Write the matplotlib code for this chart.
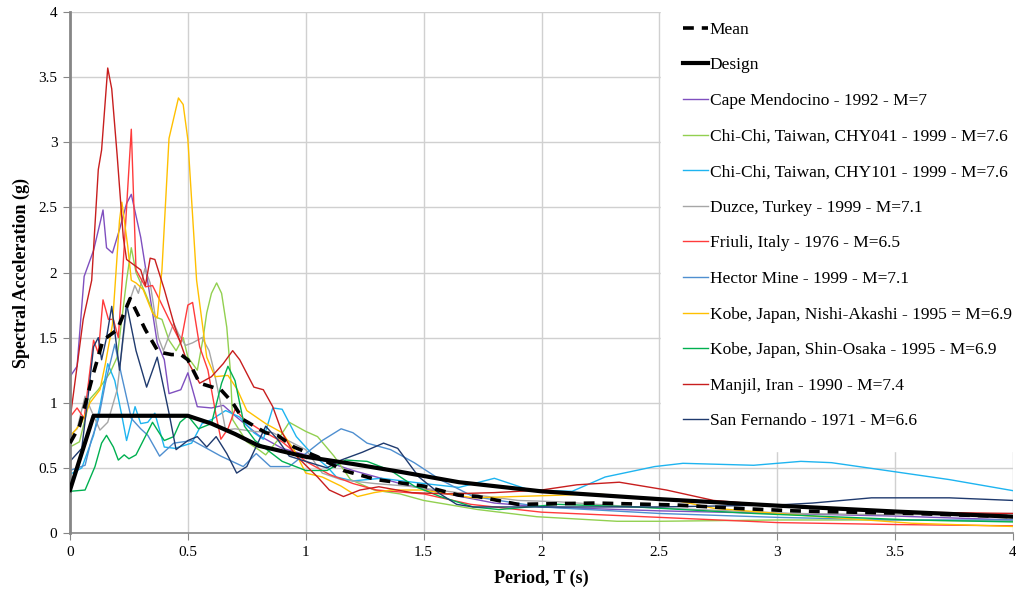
import matplotlib
matplotlib.use("Agg")
import matplotlib.pyplot as plt

plt.rcParams['font.family'] = ['Liberation Serif', 'DejaVu Serif']

# --- mean and design spectra ---
mean_T = [0, 0.04, 0.1, 0.14, 0.2, 0.255, 0.32, 0.375, 0.43, 0.47, 0.5, 0.55, 0.64, 0.69, 0.735, 0.83,
          0.88, 0.95, 1.05, 1.16, 1.3, 1.5, 1.65, 1.73, 1.9, 2.23, 2.57, 2.82, 3.07, 3.57, 4.0]
mean_Sa = [0.69, 0.82, 1.23, 1.48, 1.56, 1.8, 1.56, 1.39, 1.37, 1.37, 1.33, 1.15, 1.1, 1.0, 0.87, 0.77,
           0.75, 0.66, 0.585, 0.48, 0.41, 0.36, 0.29, 0.28, 0.22, 0.23, 0.215, 0.19, 0.17, 0.15, 0.125]

design_T = [0, 0.1, 0.5, 0.6, 0.7, 0.8, 1.0, 1.2, 1.4, 1.65, 2.0, 2.5, 3.0, 3.5, 4.0]
design_Sa = [0.33, 0.9, 0.9, 0.84, 0.76, 0.67, 0.585, 0.53, 0.47, 0.39, 0.32, 0.26, 0.21, 0.165, 0.125]

# --- records ---
cape_T = [0, 0.03, 0.06, 0.1, 0.13, 0.14, 0.155, 0.18, 0.21, 0.24, 0.26, 0.3, 0.34, 0.37, 0.4, 0.42, 0.47,
          0.5, 0.54, 0.6, 0.65, 0.7, 0.8, 0.9, 1.0, 1.2, 1.4, 1.6, 1.8, 2.0, 2.5, 3.0, 3.5, 4.0]
cape_Sa = [1.2, 1.28, 1.97, 2.17, 2.4, 2.48, 2.19, 2.15, 2.33, 2.53, 2.6, 2.27, 1.81, 1.46, 1.33, 1.07, 1.1,
           1.23, 0.97, 0.96, 0.98, 0.9, 0.75, 0.65, 0.6, 0.48, 0.38, 0.3, 0.23, 0.2, 0.17, 0.15, 0.13, 0.1]

chy041_T = [0, 0.04, 0.085, 0.12, 0.17, 0.2, 0.24, 0.26, 0.28, 0.32, 0.36, 0.39, 0.42, 0.45, 0.48, 0.5,
            0.54, 0.565, 0.58, 0.6, 0.622, 0.643, 0.665, 0.68, 0.69, 0.75, 0.8, 0.83, 0.88, 0.93, 1.0,
            1.05, 1.12, 1.19, 1.29, 1.4, 1.5, 1.73, 1.98, 2.32, 2.5, 3.0, 3.5, 4.0]
chy041_Sa = [0.66, 0.7, 1.03, 1.1, 1.23, 1.35, 1.94, 2.19, 2.0, 1.84, 1.66, 1.64, 1.48, 1.4, 1.5, 1.35,
             1.25, 1.5, 1.69, 1.84, 1.92, 1.84, 1.58, 1.25, 0.87, 0.7, 0.64, 0.6, 0.71, 0.85, 0.78,
             0.74, 0.59, 0.41, 0.33, 0.3, 0.25, 0.18, 0.125, 0.09, 0.09, 0.1, 0.1, 0.09]

chy101_T = [0, 0.05, 0.1, 0.13, 0.16, 0.19, 0.22, 0.24, 0.276, 0.3, 0.33, 0.36, 0.4, 0.445, 0.516, 0.56,
            0.6, 0.66, 0.72, 0.78, 0.82, 0.86, 0.9, 0.96, 1.03, 1.09, 1.13, 1.2, 1.32, 1.5, 1.65, 1.8,
            1.95, 2.13, 2.27, 2.48, 2.6, 2.9, 3.1, 3.23, 3.5, 3.73, 4.0]
chy101_Sa = [0.45, 0.5, 0.75, 1.0, 1.3, 1.17, 0.9, 0.71, 0.97, 0.84, 0.85, 0.92, 0.66, 0.65, 0.69, 0.84,
             0.87, 0.94, 0.89, 0.77, 0.72, 0.96, 0.95, 0.74, 0.6, 0.51, 0.43, 0.4, 0.42, 0.38, 0.35, 0.42,
             0.33, 0.32, 0.43, 0.51, 0.535, 0.52, 0.55, 0.54, 0.47, 0.41, 0.325]

duzce_T = [0, 0.03, 0.064, 0.1, 0.127, 0.16, 0.2, 0.24, 0.275, 0.29, 0.318, 0.34, 0.375, 0.396, 0.44, 0.46,
           0.49, 0.52, 0.56, 0.59, 0.61, 0.636, 0.66, 0.7, 0.78, 0.86, 1.0, 1.07, 1.15, 1.29, 1.43, 1.73,
           1.9, 2.07, 2.4, 3.07, 3.5, 4.0]
duzce_Sa = [0.75, 0.8, 1.05, 0.9, 0.79, 0.85, 1.1, 1.71, 1.9, 1.84, 2.03, 1.92, 1.5, 1.4, 1.61, 1.53,
            1.44, 1.46, 1.5, 1.4, 1.25, 1.02, 0.79, 0.8, 0.78, 0.77, 0.64, 0.46, 0.41, 0.38, 0.36, 0.29,
            0.25, 0.24, 0.2, 0.15, 0.14, 0.15]

friuli_T = [0, 0.03, 0.06, 0.1, 0.12, 0.14, 0.163, 0.184, 0.205, 0.22, 0.24, 0.26, 0.28, 0.32, 0.35, 0.38,
            0.42, 0.47, 0.5, 0.52, 0.55, 0.585, 0.62, 0.64, 0.67, 0.7, 0.74, 0.8, 0.85, 0.9, 1.0, 1.1,
            1.2, 1.3, 1.5, 1.7, 2.0, 2.5, 3.0, 3.5, 4.0]
friuli_Sa = [0.89, 0.96, 0.88, 1.48, 1.38, 1.79, 1.64, 1.64, 1.5, 1.9, 2.5, 3.1, 2.02, 1.89, 1.9, 1.79,
             1.64, 1.46, 1.75, 1.77, 1.43, 1.25, 0.9, 0.72, 0.8, 0.95, 0.87, 0.8, 0.75, 0.7, 0.55, 0.45,
             0.38, 0.33, 0.3, 0.22, 0.16, 0.12, 0.08, 0.065, 0.055]

hector_T = [0, 0.064, 0.09, 0.12, 0.15, 0.19, 0.22, 0.26, 0.3, 0.33, 0.38, 0.44, 0.52, 0.58, 0.64, 0.735,
            0.79, 0.85, 0.93, 1.0, 1.07, 1.15, 1.2, 1.26, 1.36, 1.46, 1.57, 1.71, 2.0, 2.5, 3.0, 3.5, 4.0]
hector_Sa = [0.48, 0.52, 0.71, 0.87, 1.15, 1.45, 1.2, 0.88, 0.8, 0.75, 0.59, 0.69, 0.71, 0.65, 0.59, 0.51,
             0.61, 0.51, 0.51, 0.61, 0.71, 0.8, 0.77, 0.69, 0.64, 0.54, 0.41, 0.28, 0.2, 0.15, 0.12, 0.1, 0.1]

nishi_T = [0, 0.05, 0.085, 0.127, 0.15, 0.18, 0.21, 0.22, 0.245, 0.26, 0.28, 0.31, 0.35, 0.37, 0.39, 0.42,
           0.46, 0.48, 0.5, 0.537, 0.58, 0.615, 0.67, 0.71, 0.75, 0.83, 0.9, 0.95, 1.0, 1.07, 1.15, 1.22,
           1.29, 1.36, 1.5, 1.71, 2.07, 2.23, 2.57, 2.73, 3.07, 3.57, 4.0]
nishi_Sa = [0.74, 0.85, 1.0, 1.1, 1.3, 1.6, 2.4, 2.54, 2.2, 1.94, 1.92, 1.87, 1.69, 1.65, 2.02, 3.03,
            3.34, 3.29, 3.02, 1.94, 1.35, 1.2, 1.21, 1.1, 0.94, 0.84, 0.77, 0.64, 0.46, 0.43, 0.36, 0.28,
            0.31, 0.33, 0.33, 0.27, 0.29, 0.3, 0.25, 0.19, 0.14, 0.075, 0.05]

shin_T = [0, 0.064, 0.106, 0.134, 0.155, 0.184, 0.205, 0.23, 0.25, 0.28, 0.35, 0.385, 0.4, 0.44, 0.467,
          0.5, 0.545, 0.6, 0.643, 0.67, 0.7, 0.74, 0.785, 0.9, 1.0, 1.09, 1.17, 1.26, 1.36, 1.46, 1.57,
          1.71, 1.82, 2.07, 2.4, 2.9, 3.57, 4.0]
shin_Sa = [0.32, 0.33, 0.51, 0.69, 0.75, 0.66, 0.56, 0.6, 0.57, 0.6, 0.85, 0.75, 0.71, 0.74, 0.85,
           0.9, 0.8, 0.84, 1.15, 1.28, 1.17, 0.82, 0.71, 0.55, 0.48, 0.48, 0.56, 0.55, 0.48, 0.36, 0.28,
           0.2, 0.18, 0.22, 0.2, 0.15, 0.1, 0.085]

manjil_T = [0, 0.03, 0.056, 0.092, 0.12, 0.134, 0.16, 0.177, 0.2, 0.226, 0.24, 0.3, 0.32, 0.34, 0.36,
            0.4, 0.445, 0.49, 0.55, 0.6, 0.65, 0.69, 0.72, 0.78, 0.82, 0.86, 0.9, 0.95, 1.05, 1.1, 1.16,
            1.23, 1.31, 1.45, 1.6, 1.8, 2.0, 2.15, 2.33, 2.53, 2.73, 3.07, 3.57, 4.0]
manjil_Sa = [0.87, 1.28, 1.64, 1.94, 2.79, 2.94, 3.57, 3.41, 2.9, 2.27, 2.1, 2.02, 1.9, 2.11, 2.1,
             1.87, 1.58, 1.35, 1.15, 1.2, 1.3, 1.4, 1.33, 1.12, 1.1, 0.97, 0.77, 0.61, 0.43, 0.33, 0.28,
             0.33, 0.355, 0.31, 0.3, 0.31, 0.33, 0.37, 0.39, 0.33, 0.25, 0.2, 0.16, 0.15]

sanf_T = [0, 0.05, 0.08, 0.1, 0.12, 0.134, 0.155, 0.177, 0.21, 0.24, 0.28, 0.325, 0.37, 0.42, 0.45, 0.5,
          0.54, 0.58, 0.62, 0.665, 0.707, 0.75, 0.83, 0.88, 0.93, 1.0, 1.09, 1.15, 1.24, 1.33, 1.39, 1.48,
          1.57, 1.64, 1.71, 2.0, 2.5, 3.0, 3.15, 3.4, 3.73, 4.0]
sanf_Sa = [0.55, 0.65, 1.1, 1.43, 1.5, 1.33, 1.5, 1.74, 1.25, 1.76, 1.4, 1.12, 1.35, 0.92, 0.64, 0.71,
           0.74, 0.66, 0.74, 0.61, 0.46, 0.51, 0.82, 0.72, 0.59, 0.55, 0.5, 0.56, 0.62, 0.69, 0.65, 0.43,
           0.3, 0.22, 0.2, 0.2, 0.2, 0.215, 0.23, 0.27, 0.27, 0.25]

records = [
    ("Cape Mendocino - 1992 - M=7", cape_T, cape_Sa, "#7F4FBF"),
    ("Chi-Chi, Taiwan, CHY041 - 1999 - M=7.6", chy041_T, chy041_Sa, "#92D050"),
    ("Chi-Chi, Taiwan, CHY101 - 1999 - M=7.6", chy101_T, chy101_Sa, "#1EB4F0"),
    ("Duzce, Turkey - 1999 - M=7.1", duzce_T, duzce_Sa, "#A6A6A6"),
    ("Friuli, Italy - 1976 - M=6.5", friuli_T, friuli_Sa, "#FF3B3B"),
    ("Hector Mine - 1999 - M=7.1", hector_T, hector_Sa, "#4F8FD0"),
    ("Kobe, Japan, Nishi-Akashi - 1995 = M=6.9", nishi_T, nishi_Sa, "#FFC000"),
    ("Kobe, Japan, Shin-Osaka - 1995 - M=6.9", shin_T, shin_Sa, "#00B050"),
    ("Manjil, Iran - 1990 - M=7.4", manjil_T, manjil_Sa, "#C81E1E"),
    ("San Fernando - 1971 - M=6.6", sanf_T, sanf_Sa, "#1F3A6E"),
]

fig = plt.figure(figsize=(10.16, 5.92), dpi=100)
ax = fig.add_axes([70 / 1016, 59 / 592, 943 / 1016, 521 / 592])

handles = []
for name, t, sa, col in records:
    h, = ax.plot(t, sa, color=col, lw=1.0, label=name, zorder=2)
    handles.append(h)

h_mean, = ax.plot(mean_T, mean_Sa, color="black", lw=2.6, ls=(0, (3, 2.2)), label="Mean", zorder=4)
h_design, = ax.plot(design_T, design_Sa, color="black", lw=3.0, label="Design", zorder=5)

ax.set_xlim(0, 4)
ax.set_ylim(0, 4)
ax.set_xticks([0, 0.5, 1, 1.5, 2, 2.5, 3, 3.5, 4])
ax.set_xticklabels(["0", "0.5", "1", "1.5", "2", "2.5", "3", "3.5", "4"])
ax.set_yticks([0, 0.5, 1, 1.5, 2, 2.5, 3, 3.5, 4])
ax.set_yticklabels(["0", "0.5", "1", "1.5", "2", "2.5", "3", "3.5", "4"])
ax.grid(True, color="#D0D0D0", lw=1.0)
ax.set_axisbelow(True)
for s in ["top", "right"]:
    ax.spines[s].set_visible(False)
ax.spines["left"].set_color("#868686")
ax.spines["left"].set_linewidth(2.0)
ax.spines["bottom"].set_color("#868686")
ax.spines["bottom"].set_linewidth(1.2)
ax.tick_params(axis="both", direction="out", length=5, color="#868686", labelsize=11, pad=4)

ax.set_xlabel("Period, T (s)", fontsize=13, fontweight="bold", labelpad=8)
ax.set_ylabel("Spectral Acceleration (g)", fontsize=13, fontweight="bold", labelpad=6)

leg = fig.legend(handles=[h_mean, h_design] + handles, loc="upper left",
                 bbox_to_anchor=(661 / 1016, 1.0), fontsize=12.5, frameon=True,
                 fancybox=False, handlelength=1.45, handletextpad=0.1,
                 labelspacing=1.12, borderpad=1.25, borderaxespad=0)
leg.get_frame().set_facecolor("white")
leg.get_frame().set_edgecolor("white")
leg.get_frame().set_alpha(1.0)
leg.set_zorder(10)

fig.savefig("out.png", dpi=100)
